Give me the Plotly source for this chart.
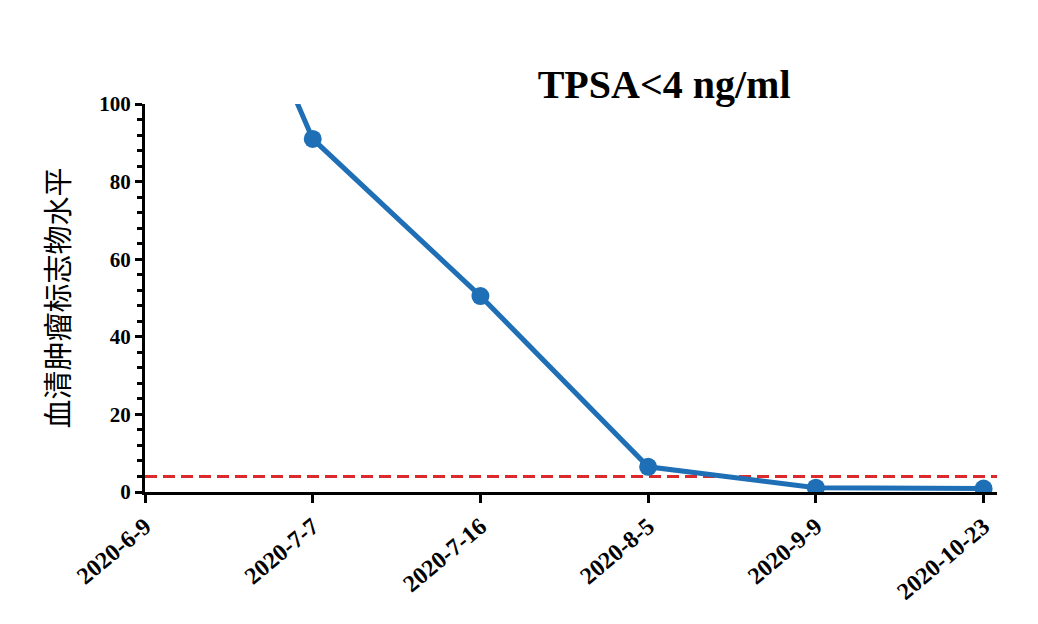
import plotly.graph_objects as go

dates = ["2020-6-9", "2020-7-7", "2020-7-16", "2020-8-5", "2020-9-9", "2020-10-23"]
tpsa = [191, 91, 50.5, 6.5, 1.1, 0.9]
threshold = 4
title_text = "TPSA<4 ng/ml"
y_title = "血清肿瘤标志物水平"

fig = go.Figure()
fig.add_trace(go.Scatter(
    x=list(range(len(dates))), y=tpsa, mode="lines+markers",
    line=dict(color="#1e6fb6", width=5),
    marker=dict(color="#1e6fb6", size=18),
    cliponaxis=True, showlegend=False,
))
fig.add_shape(type="line", xref="paper", yref="y", x0=0, x1=1, y0=threshold, y1=threshold,
              line=dict(color="#dc2a2c", width=3, dash="12px,6px"), layer="below")

fig.update_layout(
    width=1022, height=608,
    margin=dict(l=137, r=33, t=96, b=124),
    paper_bgcolor="white", plot_bgcolor="white",
    title=dict(text=title_text, x=0.642, xanchor="center", y=0.875, yanchor="middle",
               font=dict(family="Liberation Serif", size=40, color="black", weight="bold")),
    font=dict(family="Liberation Serif", color="black"),
)
fig.update_xaxes(
    tickmode="array", tickvals=list(range(len(dates))), ticktext=dates,
    range=[0, 5.08], showgrid=False, zeroline=False, automargin=False,
    showline=True, linecolor="black", linewidth=3,
    ticks="outside", ticklen=8, tickwidth=2.5, tickcolor="black",
    tickangle=-40, tickfont=dict(family="Liberation Serif", size=24, color="black", weight="bold"),
)
fig.update_yaxes(
    range=[0, 100], dtick=20, showgrid=False, zeroline=False, automargin=False,
    showline=True, linecolor="black", linewidth=3,
    ticks="outside", ticklen=7, tickwidth=2.5, tickcolor="black",
    minor=dict(dtick=4, ticks="outside", ticklen=5, tickwidth=2.5, tickcolor="black"),
    tickfont=dict(family="Liberation Serif", size=21, color="black", weight="bold"),
    title=dict(text=y_title, font=dict(family="Noto Sans CJK SC", size=29, color="black"), standoff=22),
)

fig.write_html("out.html")
